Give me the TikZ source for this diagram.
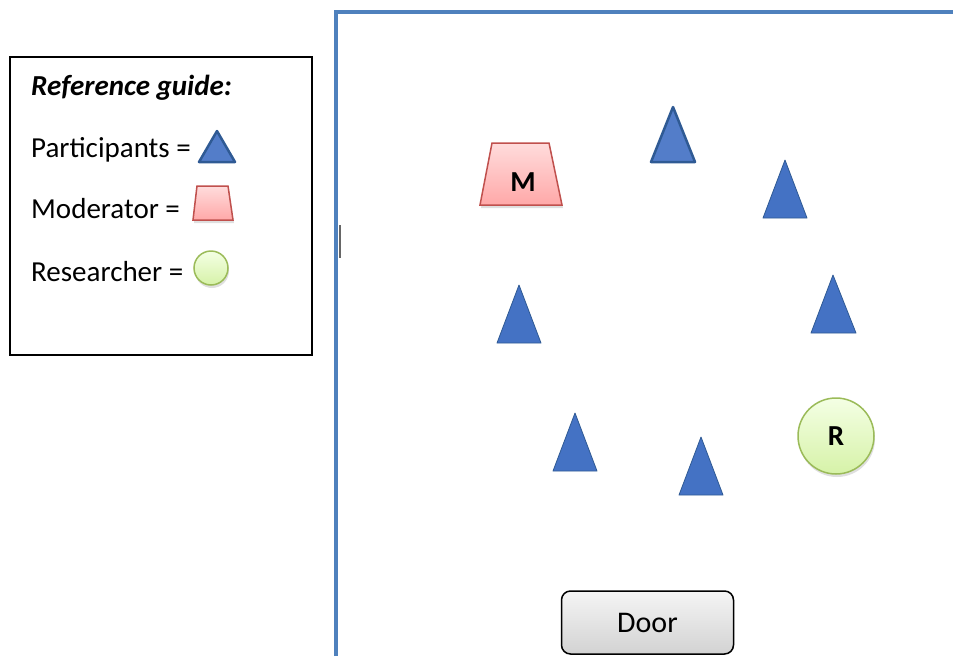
\documentclass[tikz,border=0pt]{standalone}
\usepackage{fontspec}
\setmainfont{Carlito}
\usetikzlibrary{shapes.geometric,shadows}
\definecolor{roomblue}{HTML}{4F81BD}
\definecolor{tribl}{HTML}{4472C4}
\definecolor{tribd}{HTML}{2F5A94}
\definecolor{modline}{HTML}{C0504D}
\definecolor{modtop}{HTML}{FFDCDC}
\definecolor{modbot}{HTML}{FFA8A8}
\definecolor{resline}{HTML}{9BBB59}
\definecolor{restop}{HTML}{F4FFE4}
\definecolor{resbot}{HTML}{D6F2A8}
\tikzset{
  legendtext/.style={anchor=base west,inner sep=0pt,font=\fontsize{29}{32}\selectfont},
  part/.style={fill=tribl,draw=tribd,line width=0.8pt,line join=round},
  partthick/.style={fill=tribl!92!white,draw=tribd,line width=2.5pt,line join=round},
  modshape/.style={top color=modtop,bottom color=modbot,draw=modline,line width=1.5pt,
     drop shadow={shadow xshift=1pt,shadow yshift=-3pt,opacity=0.25}},
  resshape/.style={circle,top color=restop,bottom color=resbot,draw=resline,line width=1.5pt,
     drop shadow={shadow xshift=1pt,shadow yshift=-3pt,opacity=0.25}},
  doorbox/.style={rounded corners=9pt,top color=gray!8,bottom color=gray!35,draw=black,line width=1.5pt}
}
\begin{document}
\begin{tikzpicture}[x=1pt,y=-1pt]
\useasboundingbox (0,0) rectangle (953,656);
% room
\draw[roomblue,line width=4pt] (336,656) -- (336,12) -- (953,12);
\draw[gray!80!black,line width=1.5pt] (340,225) -- (340,258);
% legend
\draw[black,line width=1.6pt] (10,57) rectangle (312,355);
\node[legendtext,font=\fontsize{29}{32}\selectfont\bfseries\itshape] (lg) at (31,95) {Reference guide:};
\node[legendtext] (lp) at (31,157) {Participants =};
\node[legendtext] (lm) at (31,218) {Moderator =};
\node[legendtext] (lr) at (31,281) {Researcher =};
\draw[partthick] (217,131) -- (235,162) -- (199,162) -- cycle;
\draw[modshape] (197,186) -- (228,186) -- (233,220) -- (193,220) -- cycle;
\node[resshape,minimum size=34pt,inner sep=0pt] (lres) at (211,268) {};
% participants
\draw[partthick] (673,107) -- (695,162) -- (651,162) -- cycle;
\draw[part] (785,160) -- (807,218) -- (763,218) -- cycle;
\draw[part] (833,275) -- (856,333) -- (811,333) -- cycle;
\draw[part] (519,285) -- (541,343) -- (497,343) -- cycle;
\draw[part] (575,413) -- (597,471) -- (553,471) -- cycle;
\draw[part] (701,437) -- (723,495) -- (679,495) -- cycle;
% moderator
\draw[modshape] (492,143) -- (549,143) -- (562,205) -- (480,205) -- cycle;
\node[font=\fontsize{29}{32}\selectfont\bfseries] (m) at (523,182) {M};
% researcher
\node[resshape,minimum size=76pt,inner sep=0pt,font=\fontsize{29}{32}\selectfont\bfseries] (r) at (836,436) {R};
% door
\node[doorbox,minimum width=172pt,minimum height=63pt,inner sep=0pt,font=\fontsize{30}{33}\selectfont] (door) at (647.5,622.5) {Door};
\end{tikzpicture}
\end{document}
